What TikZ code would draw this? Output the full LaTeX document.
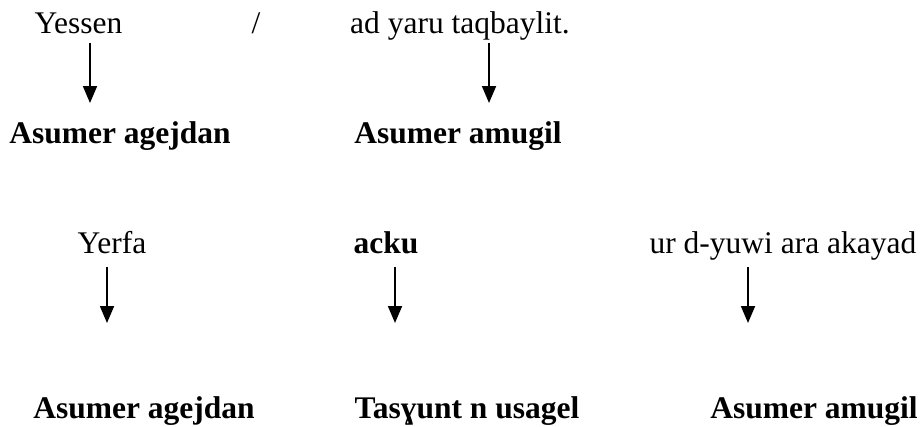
\documentclass[tikz,border=0pt]{standalone}
\usepackage{fontspec}
\setmainfont{Liberation Serif}
\usetikzlibrary{arrows.meta}
\begin{document}
\begin{tikzpicture}[x=1pt,y=-1pt,
  lbl/.style={anchor=base,inner sep=0pt,font=\fontsize{31.5}{36}\selectfont},
  blbl/.style={lbl,font=\fontsize{31.5}{36}\selectfont\bfseries},
  arr/.style={line width=1.8pt,-{Triangle[length=17pt,width=14pt]}}]
\useasboundingbox (0,0) rectangle (923,426);
% row 1
\node[lbl] (yessen) at (78.5,33) {Yessen};
\node[lbl] (slash) at (256,33) {/};
\node[lbl] (ad) at (460,33) {ad yaru taqbaylit.};
\node[blbl] (ag1) at (120,143) {Asumer agejdan};
\node[blbl] (am1) at (458,143) {Asumer amugil};
% row 2
\node[lbl] (yerfa) at (112,253) {Yerfa};
\node[blbl] (acku) at (386,253) {acku};
\node[lbl] (ur) at (783,253) {ur d-yuwi ara akayad};
\node[blbl] (ag2) at (144,418) {Asumer agejdan};
\node[blbl] (tas) at (467,418) {Tasɣunt n usagel};
\node[blbl] (am2) at (814,418) {Asumer amugil};
% arrow ends
\coordinate (a1s) at (90,43);  \coordinate (a1e) at (90,103);
\coordinate (a2s) at (489,43); \coordinate (a2e) at (489,103);
\coordinate (a3s) at (107,267); \coordinate (a3e) at (107,323);
\coordinate (a4s) at (395,267); \coordinate (a4e) at (395,323);
\coordinate (a5s) at (748,267); \coordinate (a5e) at (748,323);
\draw[arr] (a1s) -- (a1e);
\draw[arr] (a2s) -- (a2e);
\draw[arr] (a3s) -- (a3e);
\draw[arr] (a4s) -- (a4e);
\draw[arr] (a5s) -- (a5e);
\end{tikzpicture}
\end{document}
